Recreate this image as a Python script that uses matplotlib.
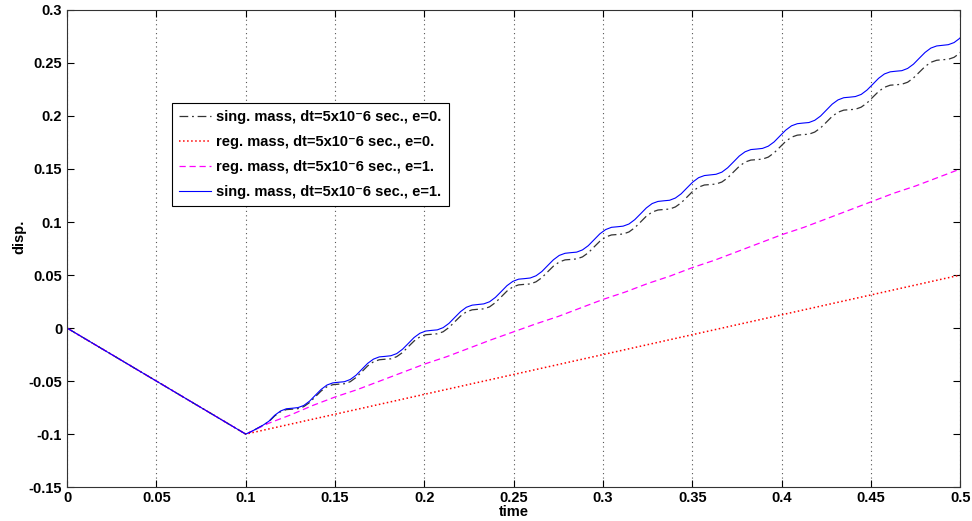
import numpy as np
import matplotlib
matplotlib.use("Agg")
import matplotlib.pyplot as plt

plt.rcParams['font.family'] = ['Liberation Sans', 'DejaVu Sans']
plt.rcParams['font.weight'] = 'bold'

# loading phase, all runs share it
t_load = [0.0, 0.1]
y_load = [0.0, -0.1]

# rebound phase of the singular mass runs, sampled every 0.00325 s
t_reb = list(np.round(0.1 + 0.00325 * np.arange(124), 5)) + [0.5]

sing_e1 = [-0.1000, -0.0975, -0.0945, -0.0915, -0.0878, -0.0822, -0.0782, -0.0761,
           -0.0756, -0.0750, -0.0730, -0.0689, -0.0633, -0.0578, -0.0537, -0.0517,
           -0.0511, -0.0506, -0.0485, -0.0445, -0.0389, -0.0333, -0.0293, -0.0272,
           -0.0267, -0.0261, -0.0241, -0.0200, -0.0145, -0.0089, -0.0049, -0.0028,
           -0.0022, -0.0017, 0.0004, 0.0044, 0.0100, 0.0155, 0.0196, 0.0216,
           0.0222, 0.0228, 0.0248, 0.0289, 0.0344, 0.0400, 0.0440, 0.0461,
           0.0466, 0.0472, 0.0493, 0.0533, 0.0589, 0.0644, 0.0685, 0.0705,
           0.0711, 0.0716, 0.0737, 0.0777, 0.0833, 0.0889, 0.0929, 0.0950,
           0.0955, 0.0961, 0.0981, 0.1022, 0.1077, 0.1133, 0.1174, 0.1194,
           0.1200, 0.1205, 0.1226, 0.1266, 0.1322, 0.1377, 0.1418, 0.1438,
           0.1444, 0.1450, 0.1470, 0.1511, 0.1566, 0.1622, 0.1662, 0.1683,
           0.1688, 0.1694, 0.1715, 0.1755, 0.1811, 0.1866, 0.1907, 0.1927,
           0.1933, 0.1938, 0.1959, 0.1999, 0.2055, 0.2111, 0.2151, 0.2172,
           0.2177, 0.2183, 0.2203, 0.2244, 0.2299, 0.2355, 0.2396, 0.2416,
           0.2422, 0.2427, 0.2448, 0.2488, 0.2544, 0.2599, 0.2640, 0.2660,
           0.2666, 0.2672, 0.2692, 0.2733, 0.2740]

sing_e0 = [-0.1000, -0.0975, -0.0946, -0.0917, -0.0882, -0.0828, -0.0789, -0.0769,
           -0.0765, -0.0760, -0.0741, -0.0702, -0.0647, -0.0593, -0.0553, -0.0534,
           -0.0529, -0.0525, -0.0506, -0.0466, -0.0412, -0.0357, -0.0318, -0.0299,
           -0.0294, -0.0290, -0.0270, -0.0231, -0.0176, -0.0122, -0.0083, -0.0063,
           -0.0059, -0.0054, -0.0035, 0.0005, 0.0059, 0.0113, 0.0153, 0.0172,
           0.0177, 0.0181, 0.0200, 0.0240, 0.0294, 0.0349, 0.0388, 0.0407,
           0.0412, 0.0416, 0.0436, 0.0475, 0.0530, 0.0584, 0.0623, 0.0643,
           0.0647, 0.0652, 0.0671, 0.0710, 0.0765, 0.0819, 0.0859, 0.0878,
           0.0882, 0.0887, 0.0906, 0.0946, 0.1000, 0.1055, 0.1094, 0.1113,
           0.1118, 0.1122, 0.1142, 0.1181, 0.1235, 0.1290, 0.1329, 0.1349,
           0.1353, 0.1358, 0.1377, 0.1416, 0.1471, 0.1525, 0.1565, 0.1584,
           0.1588, 0.1593, 0.1612, 0.1652, 0.1706, 0.1760, 0.1800, 0.1819,
           0.1824, 0.1828, 0.1848, 0.1887, 0.1941, 0.1996, 0.2035, 0.2055,
           0.2059, 0.2063, 0.2083, 0.2122, 0.2177, 0.2231, 0.2270, 0.2290,
           0.2294, 0.2299, 0.2318, 0.2358, 0.2412, 0.2466, 0.2506, 0.2525,
           0.2530, 0.2534, 0.2553, 0.2593, 0.2600]

t_reg = [0.1, 0.1125, 0.125, 0.1375, 0.15, 0.1625, 0.175, 0.1875, 0.2, 0.2125, 0.225,
         0.2375, 0.25, 0.2625, 0.275, 0.2875, 0.3, 0.3125, 0.325, 0.3375, 0.35,
         0.3625, 0.375, 0.3875, 0.4, 0.4125, 0.425, 0.4375, 0.45, 0.4625, 0.475,
         0.4875, 0.5]
reg_e1 = [-0.1, -0.090, -0.082, -0.073, -0.065, -0.058, -0.050, -0.042, -0.034, -0.027,
          -0.019, -0.011, -0.0035, 0.004, 0.011, 0.019, 0.027, 0.034, 0.042, 0.049,
          0.057, 0.064, 0.072, 0.080, 0.088, 0.095, 0.103, 0.111, 0.119, 0.127,
          0.134, 0.142, 0.150]

t_reg0 = [0.1, 0.2, 0.3, 0.4, 0.5]
reg_e0 = [-0.1, -0.0625, -0.025, 0.0125, 0.05]

labels = ['sing. mass, dt=5x10\u207b6 sec., e=0.',
          'reg. mass, dt=5x10\u207b6 sec., e=0.',
          'reg. mass, dt=5x10\u207b6 sec., e=1.',
          'sing. mass, dt=5x10\u207b6 sec., e=1.']

fig = plt.figure(figsize=(9.72, 5.21), dpi=100)
ax = fig.add_axes([0.069, 0.065, 0.919, 0.916])

ax.plot(t_load + t_reb[1:], y_load + sing_e0[1:], color='#333333', lw=0.9,
        dashes=(7, 3, 1.5, 3), label=labels[0])
ax.plot(t_load + t_reg0[1:], y_load + reg_e0[1:], color='red', lw=1.1,
        linestyle=':', label=labels[1])
ax.plot(t_load + t_reg[1:], y_load + reg_e1[1:], color='magenta', lw=0.9,
        dashes=(5, 3), label=labels[2])
ax.plot(t_load + t_reb[1:], y_load + sing_e1[1:], color='blue', lw=0.8,
        label=labels[3])

ax.set_xlim(0, 0.5)
ax.set_ylim(-0.15, 0.3)
ax.set_xticks(np.arange(0, 0.501, 0.05))
ax.set_yticks(np.arange(-0.15, 0.301, 0.05))
ax.set_xticklabels(['0', '0.05', '0.1', '0.15', '0.2', '0.25', '0.3', '0.35', '0.4', '0.45', '0.5'])
ax.set_yticklabels(['-0.15', '-0.1', '-0.05', '0', '0.05', '0.1', '0.15', '0.2', '0.25', '0.3'])
ax.tick_params(direction='in', length=5, width=0.8, top=True, right=True,
               labelsize=10.5)
ax.tick_params(axis='x', pad=3)
ax.xaxis.grid(True, linestyle=(0, (1, 3)), color='#555555', lw=0.8)
ax.set_xlabel('time', fontsize=10.5, fontweight='bold', labelpad=0)
ax.set_ylabel('disp.', fontsize=10.5, fontweight='bold')
ax.yaxis.set_label_coords(-0.045, 0.524)
for s in ax.spines.values():
    s.set_color('#333333')

leg = ax.legend(loc='upper left', bbox_to_anchor=(0.1176, 0.805), borderaxespad=0,
                fancybox=False, edgecolor='black', fontsize=10.5, handlelength=2.2,
                handletextpad=0.3, labelspacing=0.75, borderpad=0.5, framealpha=1)
leg.get_frame().set_linewidth(0.8)

fig.savefig('out.png', dpi=100)
